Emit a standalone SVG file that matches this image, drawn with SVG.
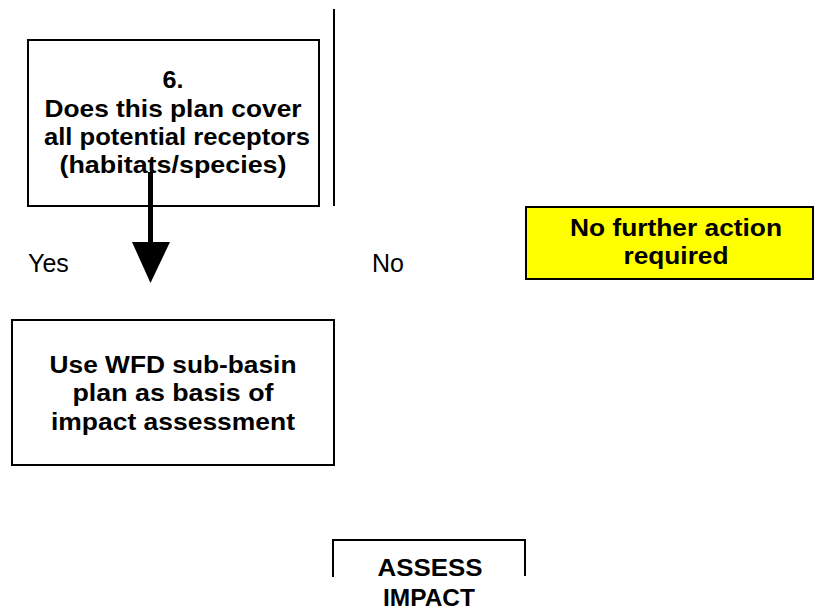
<svg xmlns="http://www.w3.org/2000/svg" width="816" height="610" viewBox="0 0 816 610">
<style>
.box{fill:#fff;stroke:#000;stroke-width:2}
.yel{fill:#ffff00;stroke:#000;stroke-width:2}
.b{font-family:"Liberation Sans",Arial,sans-serif;font-weight:bold;font-size:24px;fill:#000;text-anchor:middle}
.r{font-family:"Liberation Sans",Arial,sans-serif;font-size:25px;fill:#000}
.ln{stroke:#000;stroke-width:2;fill:none}
</style>
<rect width="816" height="610" fill="#fff"/>
<g id="q6">
<rect class="box" x="28" y="40" width="291" height="166"/>
<text class="b" x="173" y="88" textLength="21" lengthAdjust="spacingAndGlyphs">6.</text>
<text class="b" x="173" y="116.5" textLength="257" lengthAdjust="spacingAndGlyphs">Does this plan cover</text>
<text class="b" x="177" y="145" textLength="266" lengthAdjust="spacingAndGlyphs">all potential receptors</text>
<text class="b" x="173" y="173" textLength="227" lengthAdjust="spacingAndGlyphs">(habitats/species)</text>
</g>
<g id="nfa">
<rect class="yel" x="526" y="207" width="287" height="72"/>
<text class="b" x="676" y="236" textLength="212" lengthAdjust="spacingAndGlyphs">No further action</text>
<text class="b" x="676" y="264" textLength="105" lengthAdjust="spacingAndGlyphs">required</text>
</g>
<g id="wfd">
<rect class="box" x="12" y="320" width="322" height="145"/>
<text class="b" x="173" y="373" textLength="247" lengthAdjust="spacingAndGlyphs">Use WFD sub-basin</text>
<text class="b" x="173" y="401" textLength="201" lengthAdjust="spacingAndGlyphs">plan as basis of</text>
<text class="b" x="173" y="430" textLength="244" lengthAdjust="spacingAndGlyphs">impact assessment</text>
</g>
<g id="assess">
<path class="ln" d="M333,577 V540 H525 V576"/>
<text class="b" x="430" y="576" textLength="105" lengthAdjust="spacingAndGlyphs">ASSESS</text>
<text class="b" x="429" y="606" textLength="92" lengthAdjust="spacingAndGlyphs">IMPACT</text>
</g>
<g id="connectors">
<line class="ln" x1="334" y1="9" x2="334" y2="206"/>
<rect x="148" y="172" width="5" height="72" fill="#000"/>
<polygon points="132,242 170,242 150.5,283" fill="#000"/>
<text class="r" x="28" y="272">Yes</text>
<text class="r" x="372" y="272">No</text>
</g>
</svg>
